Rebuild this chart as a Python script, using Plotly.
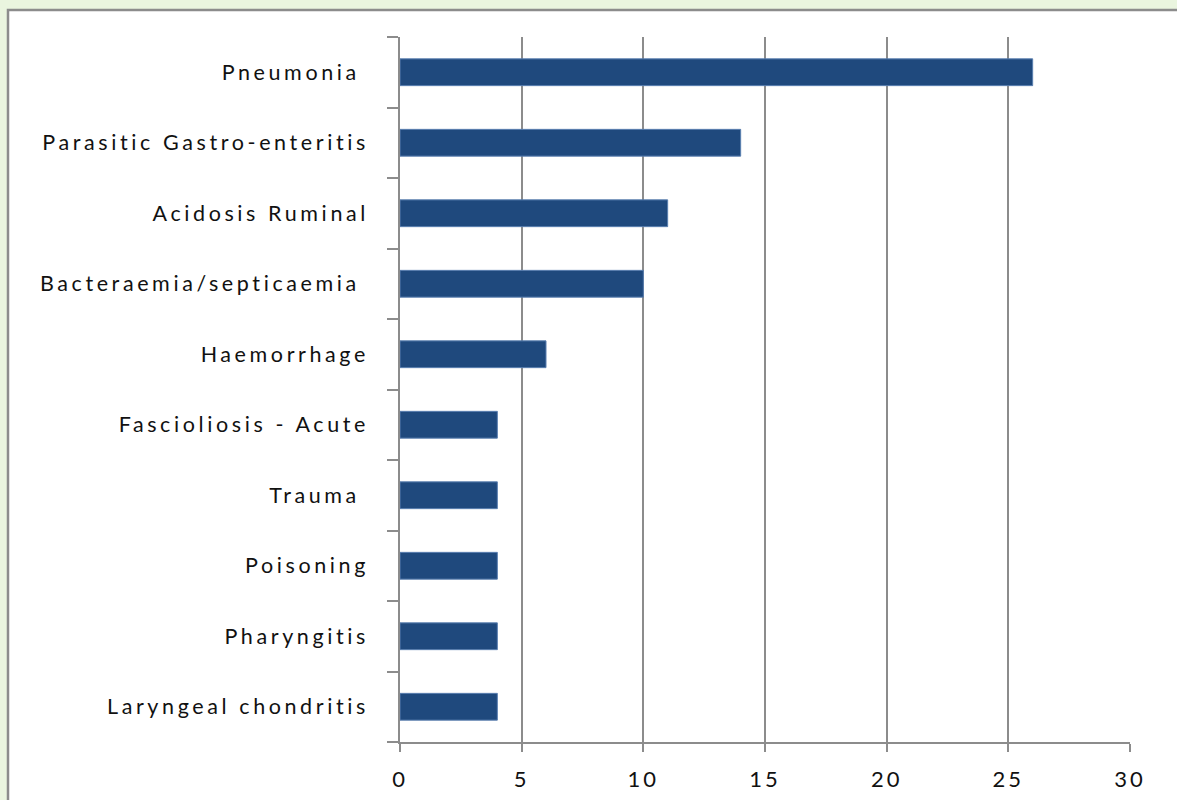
import plotly.graph_objects as go

categories = [
    "Pneumonia\u00a0",
    "Parasitic Gastro-enteritis",
    "Acidosis Ruminal",
    "Bacteraemia/septicaemia\u00a0",
    "Haemorrhage",
    "Fascioliosis - Acute",
    "Trauma\u00a0",
    "Poisoning",
    "Pharyngitis",
    "Laryngeal chondritis",
]
values = [26, 14, 11, 10, 6, 4, 4, 4, 4, 4]
x_ticks = [0, 5, 10, 15, 20, 25, 30]

W, H = 1177, 800
L, R, T, B = 400, 47, 37, 58
pw, ph = W - L - R, H - T - B

def px_x(p):
    return (p - L) / pw

def px_y(p):
    return 1 - (p - T) / ph

fig = go.Figure(
    go.Bar(
        x=values,
        y=categories,
        orientation="h",
        marker=dict(color="#1F497D", line=dict(color="#5a7fb0", width=1)),
        width=0.38,
    )
)

fig.add_shape(
    type="rect", xref="paper", yref="paper",
    x0=px_x(8), x1=px_x(1200), y0=px_y(10), y1=px_y(820),
    fillcolor="white", line=dict(color="#8c8c8c", width=2.5), layer="below",
)

fig.update_layout(
    width=W, height=H,
    margin=dict(l=L, r=R, t=T, b=B, pad=0, autoexpand=False),
    paper_bgcolor="#EAF5DF",
    plot_bgcolor="rgba(0,0,0,0)",
    showlegend=False,
    bargap=0.62,
    xaxis=dict(
        range=[0, 30], tickvals=x_ticks, ticktext=[str(v) for v in x_ticks],
        showgrid=True, gridcolor="#8c8c8c", gridwidth=1.5,
        showline=True, linecolor="#8c8c8c", linewidth=1.5,
        ticks="outside", ticklen=8, tickwidth=1.5, tickcolor="#8c8c8c",
        tickfont=dict(family="Lato", size=22, color="#111111"),
        ticklabelstandoff=9, zeroline=False, automargin=False,
    ),
    yaxis=dict(
        type="category", categoryorder="array", categoryarray=categories[::-1],
        showgrid=False,
        showline=True, linecolor="#8c8c8c", linewidth=1.5,
        ticks="outside", ticklen=11, tickwidth=1.5, tickcolor="#8c8c8c",
        tickson="boundaries",
        tickfont=dict(family="Lato", size=21.5, color="#111111"),
        ticklabelstandoff=25, automargin=False,
    ),
)

post = (
    "document.body.style.margin='0';"
    "var s=document.createElement('style');"
    "s.textContent='.ytick text{letter-spacing:3.6px}.xtick text{letter-spacing:3px}';"
    "document.head.appendChild(s);"
)
fig.write_html("out.html", post_script=post, config={"displayModeBar": False})
